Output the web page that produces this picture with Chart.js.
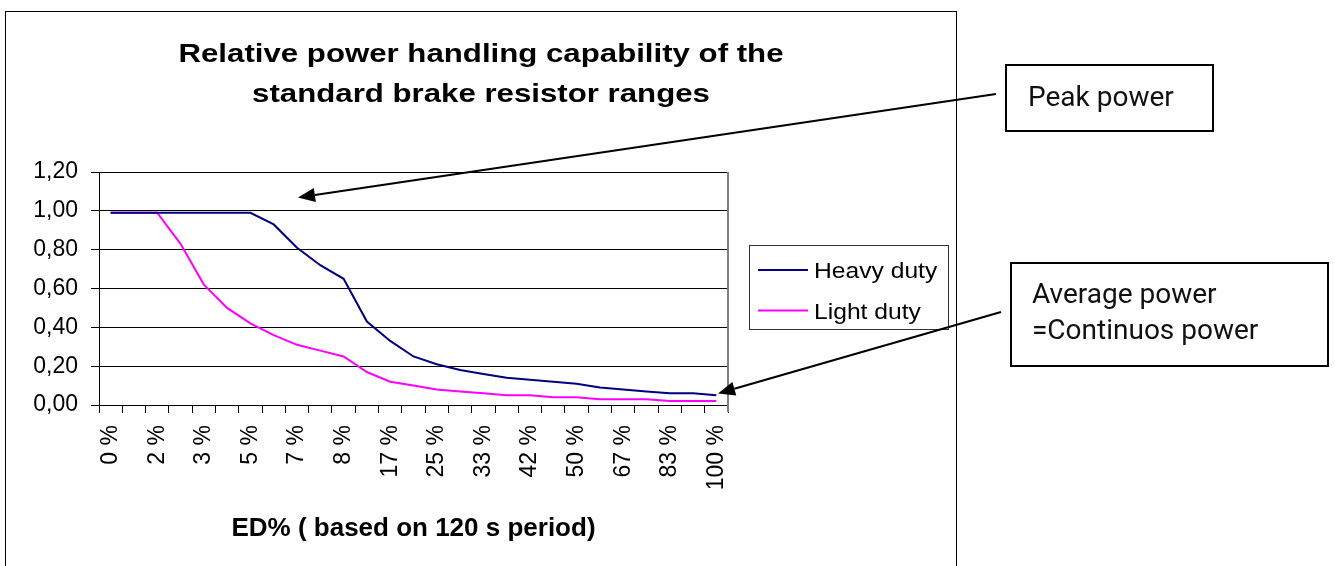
<!DOCTYPE html>
<html><head><meta charset="utf-8">
<script src="https://cdn.jsdelivr.net/npm/chart.js@4.4.0/dist/chart.umd.min.js"></script>
<style>html,body{margin:0;padding:0;background:#fff}#wrap{width:1335px;height:566px;position:relative}</style>
</head><body><div id="wrap"><canvas id="c"></canvas></div>
<script>
// ---- data ----
const categories = ['0 %','1 %','2 %','3 %','3 %','4 %','5 %','6 %','7 %','8 %','8 %','13 %','17 %','21 %','25 %','29 %','33 %','38 %','42 %','46 %','50 %','58 %','67 %','75 %','83 %','92 %','100 %'];
const heavyDuty = [0.99,0.99,0.99,0.99,0.99,0.99,0.99,0.93,0.81,0.72,0.65,0.43,0.33,0.25,0.21,0.18,0.16,0.14,0.13,0.12,0.11,0.09,0.08,0.07,0.06,0.06,0.05];
const lightDuty = [0.99,0.99,0.99,0.83,0.62,0.50,0.42,0.36,0.31,0.28,0.25,0.17,0.12,0.10,0.08,0.07,0.06,0.05,0.05,0.04,0.04,0.03,0.03,0.03,0.02,0.02,0.02];
const seriesNames = ['Heavy duty','Light duty'];
const yMin = 0, yMax = 1.2, yStep = 0.2;
const labelEvery = 2;
const chartTitle = ['Relative power handling capability of the','standard brake resistor ranges'];
const xAxisTitle = 'ED% ( based on 120 s period)';
const peakNote = ['Peak power'];
const avgNote = ['Average power','=Continuos power'];

function stretchText(ctx, t, x, y, sx){
  ctx.save(); ctx.translate(x, y); ctx.scale(sx, 1); ctx.fillText(t, 0, 0); ctx.restore();
}
function arrow(ctx, x0, y0, x1, y1){
  const ang = Math.atan2(y1 - y0, x1 - x0), L = 17, W = 7;
  const bx = x1 - L*Math.cos(ang), by = y1 - L*Math.sin(ang);
  ctx.beginPath(); ctx.moveTo(x0, y0); ctx.lineTo(bx, by); ctx.stroke();
  ctx.beginPath(); ctx.moveTo(x1, y1);
  ctx.lineTo(bx + W*Math.sin(ang), by - W*Math.cos(ang));
  ctx.lineTo(bx - W*Math.sin(ang), by + W*Math.cos(ang));
  ctx.closePath(); ctx.fill();
}

const decor = {
  id: 'decor',
  beforeDraw(chart){
    const ctx = chart.ctx;
    ctx.save();
    ctx.fillStyle = '#fff'; ctx.fillRect(0, 0, chart.width, chart.height);
    ctx.strokeStyle = '#000'; ctx.lineWidth = 1;
    ctx.strokeRect(5.5, 11.5, 951, 600);
    ctx.restore();
  },
  afterDraw(chart){
    const ctx = chart.ctx, a = chart.chartArea;
    ctx.save();
    // plot right border
    ctx.strokeStyle = '#808080'; ctx.lineWidth = 2;
    ctx.beginPath(); ctx.moveTo(a.right, a.top); ctx.lineTo(a.right, a.bottom + 7); ctx.stroke();
    // title
    ctx.fillStyle = '#000'; ctx.textAlign = 'center'; ctx.textBaseline = 'alphabetic';
    ctx.font = 'bold 26px "Liberation Sans", Arial, sans-serif';
    stretchText(ctx, chartTitle[0], 481, 62, 1.2);
    stretchText(ctx, chartTitle[1], 481, 102, 1.2);
    // legend
    ctx.lineWidth = 1; ctx.strokeStyle = '#333';
    ctx.fillStyle = '#fff'; ctx.fillRect(749, 245, 199, 84);
    ctx.strokeRect(749.5, 245.5, 199, 84);
    ctx.textAlign = 'left'; ctx.font = '22px "Liberation Sans", Arial, sans-serif';
    chart.data.datasets.forEach((ds, i) => {
      const y = 270 + i*40.5;
      ctx.strokeStyle = ds.borderColor; ctx.lineWidth = 2;
      ctx.beginPath(); ctx.moveTo(758, y); ctx.lineTo(808, y); ctx.stroke();
      ctx.fillStyle = '#000';
      stretchText(ctx, ds.label, 814, y + 8, 1.12);
    });
    // annotation boxes
    ctx.strokeStyle = '#000'; ctx.lineWidth = 2; ctx.fillStyle = '#000';
    ctx.strokeRect(1006, 65, 207, 66);
    ctx.strokeRect(1011, 263, 317, 103);
    ctx.font = '28px Roboto, "Noto Sans", sans-serif';
    ctx.fillStyle = '#111';
    ctx.fillText(peakNote[0], 1028, 106);
    ctx.fillText(avgNote[0], 1032, 303);
    ctx.fillText(avgNote[1], 1032, 339);
    // arrows
    ctx.fillStyle = '#000'; ctx.strokeStyle = '#000'; ctx.lineWidth = 2.2;
    arrow(ctx, 996, 94, 298, 197.5);
    arrow(ctx, 1001, 312, 718, 393.5);
    ctx.restore();
  }
};

new Chart(document.getElementById('c'), {
  type: 'line',
  data: {
    labels: categories,
    datasets: [
      { label: seriesNames[0], data: heavyDuty, borderColor: '#000080', borderWidth: 2, pointRadius: 0, tension: 0, fill: false },
      { label: seriesNames[1], data: lightDuty, borderColor: '#FF00FF', borderWidth: 2, pointRadius: 0, tension: 0, fill: false }
    ]
  },
  options: {
    responsive: true, maintainAspectRatio: false, animation: false, devicePixelRatio: 1,
    layout: { padding: { left: 0, top: 172, right: 607, bottom: 0 } },
    plugins: { legend: { display: false }, title: { display: false }, tooltip: { enabled: false } },
    scales: {
      x: {
        offset: true,
        grid: { offset: true, drawOnChartArea: false, drawTicks: true, tickLength: 8, color: '#000' },
        border: { color: '#000', width: 1 },
        ticks: {
          autoSkip: false, minRotation: 90, maxRotation: 90, padding: 12, color: '#000',
          font: { family: '"Liberation Sans", Arial, sans-serif', size: 23 },
          callback: (v, i) => (i % labelEvery === 0 ? categories[i] : '')
        },
        title: { display: true, text: xAxisTitle, color: '#000', padding: { top: 0, bottom: 22 },
          font: { family: '"Liberation Sans", Arial, sans-serif', size: 26, weight: 'bold' } },
        afterFit: (s) => { s.height = 161; }
      },
      y: {
        min: yMin, max: yMax,
        grid: { color: '#000', lineWidth: 1, drawTicks: true, tickLength: 8 },
        border: { color: '#000', width: 1 },
        ticks: { stepSize: yStep, padding: 13, color: '#000',
          font: { family: '"Liberation Sans", Arial, sans-serif', size: 23 },
          callback: (v) => v.toFixed(2).replace('.', ',') },
        afterFit: (s) => { s.width = 99; }
      }
    }
  },
  plugins: [decor]
});
</script></body></html>
